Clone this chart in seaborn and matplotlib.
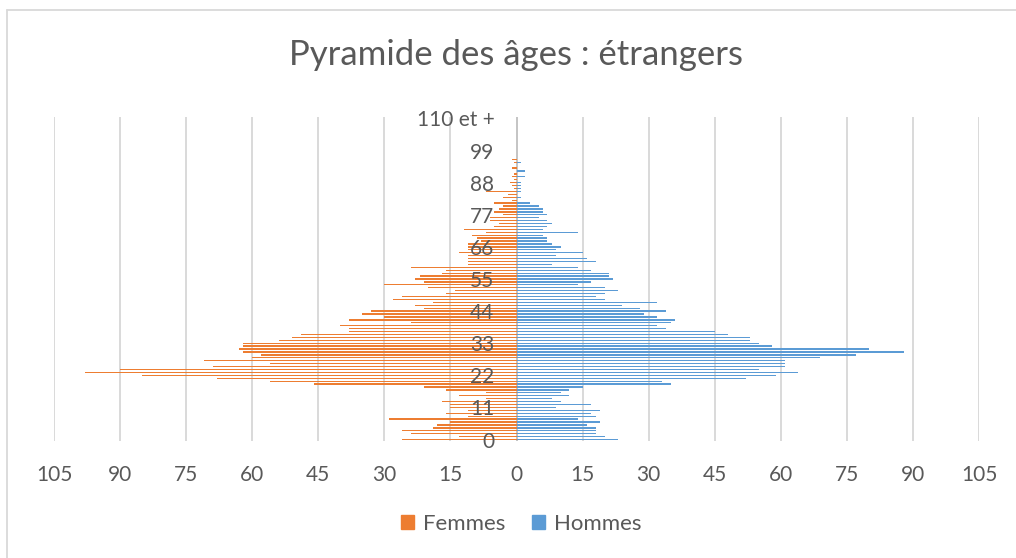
import matplotlib
matplotlib.use("Agg")
import matplotlib.pyplot as plt
from matplotlib.patches import Patch
from matplotlib.lines import Line2D
import pandas as pd
import seaborn as sns

# ages 0 .. 110 ("110 et +")
ages = list(range(0, 111))

# femmes, ages 0..110
femmes = [
    26, 13, 24, 26, 19, 18, 15, 29, 11, 16,      # 0-9
    11, 15, 15, 17, 7, 13, 7, 16, 21, 46,        # 10-19
    56, 68, 85, 98, 90, 69, 56, 71, 60, 58,      # 20-29
    62, 63, 62, 62, 54, 51, 49, 38, 38, 40,      # 30-39
    24, 38, 30, 35, 33, 21, 23, 19, 28, 26,      # 40-49
    16, 14, 20, 30, 21, 23, 22, 17, 16, 24,      # 50-59
    11, 11, 11, 11, 13, 11, 11, 11, 8, 9,        # 60-69
    10, 7, 12, 5, 4, 6, 6, 3, 5, 4,              # 70-79
    3, 5, 1, 3, 2, 7, 0.5, 1, 1.5, 0.5,          # 80-89
    1, 0.5, 0, 1, 0, 0.5, 1, 0, 0, 0,            # 90-99
    0, 0, 0, 0, 0, 0, 0, 0, 0, 0, 0,             # 100-110
]

# hommes, ages 0..110
hommes = [
    23, 20, 18, 18, 18, 16, 19, 14, 18, 17,      # 0-9
    19, 9, 17, 10, 8, 12, 10, 12, 15, 35,        # 10-19
    33, 52, 59, 64, 55, 61, 61, 61, 69, 77,      # 20-29
    88, 80, 58, 55, 53, 53, 48, 45, 34, 32,      # 30-39
    35, 36, 32, 29, 34, 28, 24, 32, 20, 18,      # 40-49
    20, 23, 20, 14, 17, 22, 21, 21, 17, 14,      # 50-59
    8, 18, 16, 9, 15, 9, 10, 8, 7, 7,            # 60-69
    6, 14, 6, 7, 8, 7, 5, 7, 6, 6,               # 70-79
    5, 3, 0, 1, 0, 1, 1, 1, 1, 0,                # 80-89
    2, 0, 2, 0, 0, 1, 0, 0, 0, 0,                # 90-99
    0, 0, 0, 0, 0, 0, 0, 0, 0, 0, 0,             # 100-110
]

age_ticks = list(range(0, 111, 11))
age_labels = ["0", "11", "22", "33", "44", "55", "66", "77", "88", "99", "110 et +"]
x_ticks = list(range(-105, 106, 15))

orange = "#ED7D31"
blue = "#5B9BD5"
grey_txt = "#595959"

df = pd.DataFrame({
    "age": ages * 2,
    "valeur": [-v for v in femmes] + hommes,
    "sexe": ["Femmes"] * len(ages) + ["Hommes"] * len(ages),
})

sns.set_style("white")
plt.rcParams["font.family"] = ["Lato", "DejaVu Sans"]

fig = plt.figure(figsize=(10.16, 5.58), dpi=100)
ax = fig.add_axes([54 / 1016, 1 - 441 / 558, (979 - 54) / 1016, (441 - 117) / 558])

# gridlines under the bars
for t in x_ticks:
    if t != 0:
        ax.axvline(t, color="#D9D9D9", linewidth=1.4, zorder=0)
ax.axvline(0, color="#BFBFBF", linewidth=1.3, zorder=0)

sns.barplot(
    data=df, x="valeur", y="age", hue="sexe", orient="h",
    native_scale=True, dodge=False, width=0.45, errorbar=None,
    palette={"Femmes": orange, "Hommes": blue}, legend=False,
    linewidth=0, saturation=1, ax=ax,
)

ax.set_xlim(-105, 105)
ax.set_ylim(-0.5, 110.5)
ax.set_xticks(x_ticks)
ax.set_xticklabels([str(abs(t)) for t in x_ticks])
ax.set_yticks(age_ticks)
ax.set_yticklabels(age_labels)
ax.set_xlabel("")
ax.set_ylabel("")
ax.grid(False)
ax.set_axisbelow(False)  # age labels sit on top of the bars
for s in ["top", "right", "bottom", "left"]:
    ax.spines[s].set_visible(False)
ax.spines["left"].set_position(("data", 0))

ax.tick_params(axis="x", length=0, pad=17, labelsize=15, labelcolor=grey_txt)
ax.tick_params(axis="y", length=0, pad=16, labelsize=15, labelcolor=grey_txt)

fig.text(0.508, 1 - 55 / 558, "Pyramide des âges : étrangers",
         ha="center", va="center", fontsize=25, color=grey_txt)

handles = [Patch(color=orange), Patch(color=blue)]
fig.legend(handles, ["Femmes", "Hommes"], loc="center",
           bbox_to_anchor=(0.513, 1 - 524 / 558), ncol=2, frameon=False,
           fontsize=16, labelcolor=grey_txt, handlelength=0.6,
           handleheight=0.6, handletextpad=0.4, columnspacing=1.2)

# chart border (top and left edges visible in the crop)
fig.add_artist(Line2D([6.5 / 1016, 1], [1 - 9.5 / 558, 1 - 9.5 / 558],
                      transform=fig.transFigure, color="#D9D9D9", linewidth=1.3))
fig.add_artist(Line2D([6.5 / 1016, 6.5 / 1016], [0, 1 - 9.5 / 558],
                      transform=fig.transFigure, color="#D9D9D9", linewidth=1.3))

fig.savefig("out.png", dpi=100)
